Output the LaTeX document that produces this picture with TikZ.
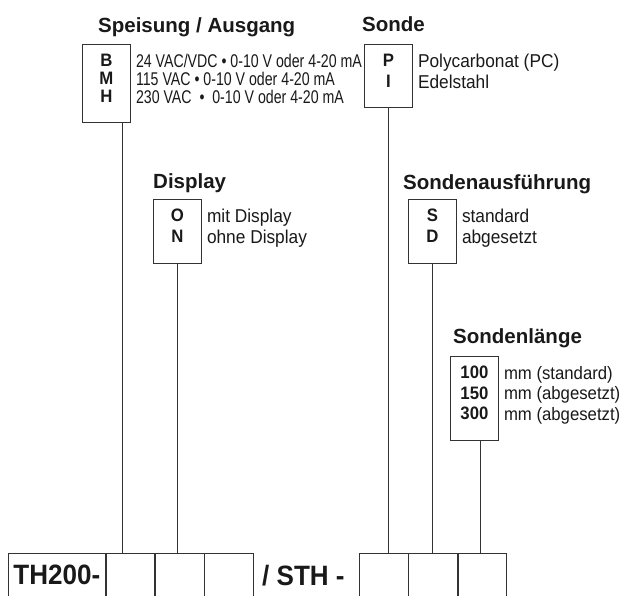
\documentclass[tikz,border=0pt]{standalone}
\usepackage{fontspec}
\setmainfont{Liberation Sans}[FakeStretch=0.93]
\newfontfamily\headfont{Liberation Sans}
\newfontfamily\narrowfont[FakeStretch=0.77]{Liberation Sans}
\newcommand\lowpad{\rule[-10pt]{0pt}{10pt}}
\begin{document}
\begin{tikzpicture}[
    x=1pt, y=-1pt,
    title/.style={anchor=base west,inner sep=0pt,text=black!90,font=\headfont\bfseries\fontsize{20.5}{24}\selectfont},
    codebox/.style={draw=black!80,line width=0.8pt,anchor=north west,minimum width=48pt,inner xsep=2pt,inner ysep=10pt,align=center,text=black!90,font=\bfseries\fontsize{18}{#1}\selectfont},
    codebox/.default=21,
    desc/.style={anchor=north west,inner xsep=5pt,inner ysep=10pt,align=left,text=black!90,font=\fontsize{18.6}{#1}\selectfont},
    desc/.default=21,
    slot/.style={draw=black!80,line width=0.8pt,anchor=north west,minimum width=48.5pt,minimum height=70pt,inner sep=0pt},
    wire/.style={draw=black!80,line width=0.8pt}
]
\useasboundingbox (0,0) rectangle (623,595);

\node[title] (tspeis) at (98,32) {Speisung / Ausgang};
\node[codebox=18] (bmh) at (82,44) {B\\M\\H\lowpad};
\node[desc=18,font=\narrowfont\fontsize{18.4}{18}\selectfont] (bmhtxt) at (bmh.north east) {24 VAC/VDC • 0-10 V oder 4-20 mA\\115 VAC • 0-10 V oder 4-20 mA\\230 VAC \ • \ 0-10 V oder 4-20 mA};

\node[title] (tsonde) at (362,31) {Sonde};
\node[codebox] (pi) at (364,44) {P\\I\lowpad};
\node[desc] (pitxt) at (pi.north east) {Polycarbonat (PC)\\Edelstahl};

\node[title] (tdisp) at (153,188) {Display};
\node[codebox] (on) at (153,199) {O\\N\lowpad};
\node[desc] (ontxt) at (on.north east) {mit Display\\ohne Display};

\node[title] (tausf) at (403,189) {Sondenausführung};
\node[codebox] (sd) at (408,199) {S\\D\lowpad};
\node[desc] (sdtxt) at (sd.north east) {standard\\abgesetzt};

\node[title] (tlen) at (453,343) {Sondenlänge};
\node[codebox=20.5] (len) at (450,356) {100\\150\\300\lowpad};
\node[desc=20.5,font=\fontsize{18}{20.5}\selectfont] (lentxt) at (len.north east) {mm (standard)\\mm (abgesetzt)\\mm (abgesetzt)};

\node[slot,minimum width=97pt,minimum height=0pt,inner ysep=12pt,text=black!90,font=\bfseries\fontsize{28}{30}\selectfont] (th) at (8,553) {TH200-\lowpad};
\node[slot] (c1) at (th.north east) {};
\node[slot] (c2) at (c1.north east) {};
\node[slot] (c3) at (c2.north east) {};
\node[anchor=base west,inner sep=0pt,text=black!90,font=\bfseries\fontsize{28}{30}\selectfont] (sth) at (262,585) {/ STH -};
\node[slot] (s1) at (359,553) {};
\node[slot] (s2) at (s1.north east) {};
\node[slot] (s3) at (s2.north east) {};

\draw[wire] ([xshift=16pt]bmh.south) -- ([xshift=16pt]bmh.south |- c1.north);
\draw[wire] (on.south) -- (on.south |- c2.north);
\draw[wire] (pi.south) -- (pi.south |- s1.north);
\draw[wire] (sd.south) -- (sd.south |- s2.north);
\draw[wire] ([xshift=6pt]len.south) -- ([xshift=6pt]len.south |- s3.north);
\end{tikzpicture}
\end{document}
